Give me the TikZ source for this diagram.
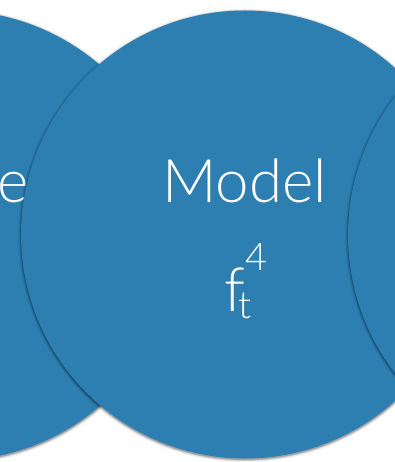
\documentclass[tikz,border=0pt]{standalone}
\usepackage{fontspec}
\newfontfamily\thinfont{Lato Light}
\definecolor{paperblue}{RGB}{45,126,177}
\tikzset{
  bigtext/.style={text=white, inner sep=0pt, font=\thinfont\fontsize{60}{60}\selectfont},
  mathbig/.style={text=white, inner sep=0pt, font=\thinfont\fontsize{61}{61}\selectfont},
  mathsmall/.style={text=white, inner sep=0pt, font=\thinfont\fontsize{38}{38}\selectfont},
}
\newcommand{\softdisc}[3]{%
  \foreach \k/\o in {3/0.03,2.2/0.05,1.5/0.08,0.9/0.11,0.4/0.15}{
    \fill[black, opacity=\o] (#1,#2+1) circle[radius=#3+\k];
  }
  \fill[paperblue] (#1,#2) circle[radius=#3];
}
\begin{document}
\begin{tikzpicture}[x=1pt,y=-1pt]
\useasboundingbox (0,0) rectangle (394,462);
\fill[white] (0,0) rectangle (394,462);
% left disc
\softdisc{-47}{235.5}{225}
\node[bigtext, anchor=base] (mleft) at (-40,202) {Model};
% centre disc
\softdisc{245}{234.5}{224}
\node[bigtext, anchor=base] (mcentre) at (244.5,202) {Model};
\node[mathbig, anchor=base west] (f) at (224,311) {f};
\node[mathsmall, anchor=base west] (t) at (238,318) {t};
\node[mathsmall, anchor=base west] (four) at (245,270) {4};
% right disc
\softdisc{575}{235}{227}
\end{tikzpicture}
\end{document}
